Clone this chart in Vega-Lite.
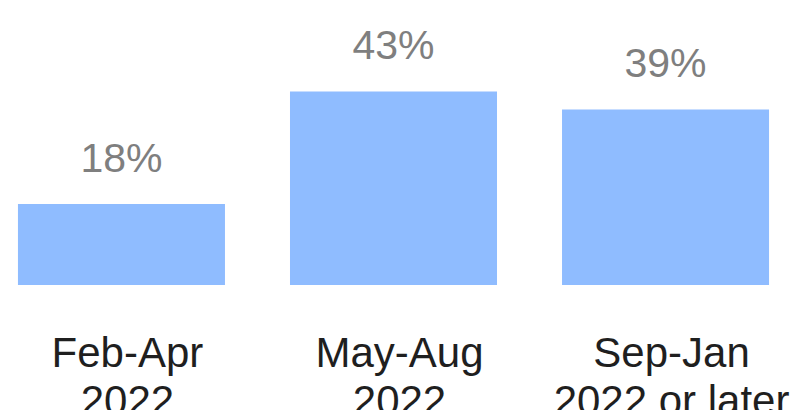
{
  "$schema": "https://vega.github.io/schema/vega-lite/v6.json",
  "autosize": "none",
  "padding": {"left": 0, "top": 0, "right": 6, "bottom": 125},
  "width": 787,
  "height": 285,
  "background": "white",
  "config": {"view": {"stroke": null}, "font": "Liberation Sans"},
  "data": {"values": [
    {"period": "Feb-Apr|2022", "pct": 18, "label": "18%"},
    {"period": "May-Aug|2022", "pct": 43, "label": "43%"},
    {"period": "Sep-Jan|2022 or later", "pct": 39, "label": "39%"}
  ]},
  "encoding": {
    "x": {"field": "period", "type": "nominal", "sort": null,
      "scale": {"paddingInner": 0.239, "paddingOuter": 0.066},
      "axis": {"title": null, "domain": false, "ticks": false, "tickSize": 0, "grid": false,
        "labelAngle": 0, "labelFontSize": 42, "labelColor": "#1f1f1f", "labelFont": "Liberation Sans",
        "labelPadding": 48, "labelBaseline": "top", "labelLineHeight": 48, "labelLimit": 0,
        "labelOverlap": false, "labelOffset": 6,
        "labelExpr": "split(datum.label, '|')"}},
    "y": {"field": "pct", "type": "quantitative", "scale": {"domain": [0, 63.33]}, "axis": null}
  },
  "layer": [
    {"mark": {"type": "bar", "color": "#8fbcff"}},
    {"mark": {"type": "text", "baseline": "alphabetic", "dy": -32, "fontSize": 41, "color": "#7f7f7f", "font": "Liberation Sans"},
      "encoding": {"text": {"field": "label", "type": "nominal"}}}
  ]
}
